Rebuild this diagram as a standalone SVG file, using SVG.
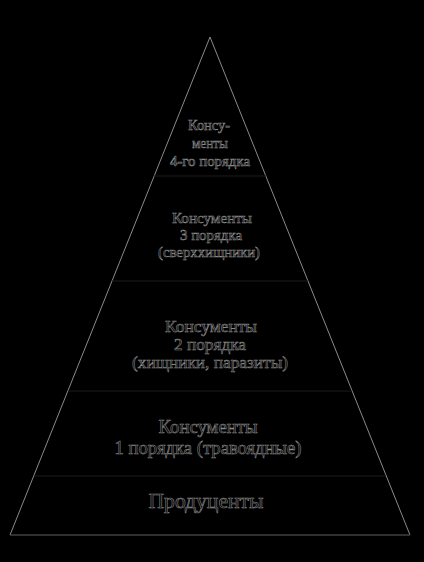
<svg xmlns="http://www.w3.org/2000/svg" width="424" height="562" viewBox="0 0 424 562">
  <style>
    .bg { fill: #000000; }
    .edge { fill: none; stroke: #9a9a9a; stroke-width: 0.9; }
    .div { stroke: #1c1c1c; stroke-width: 1; }
    .t { font-family: "Liberation Serif", "Times New Roman", serif; fill: #000000; stroke: #8a8a8a; stroke-width: 0.55; text-anchor: middle; }
  </style>
  <rect class="bg" x="0" y="0" width="424" height="562"/>
  <g id="pyramid">
    <polygon class="edge" points="210,37 10,535 410,535"/>
    <line class="div" x1="154" y1="176" x2="266" y2="176"/>
    <line class="div" x1="112" y1="281" x2="308" y2="281"/>
    <line class="div" x1="68" y1="391" x2="352" y2="391"/>
    <line class="div" x1="34" y1="476" x2="386" y2="476"/>
    <line class="div" x1="10" y1="535" x2="410" y2="535"/>
  </g>
  <g id="level4">
    <text class="t" x="209" y="130" font-size="14" textLength="42" lengthAdjust="spacingAndGlyphs">Консу-</text>
    <text class="t" x="210" y="148" font-size="14" textLength="36" lengthAdjust="spacingAndGlyphs">менты</text>
    <text class="t" x="210" y="166" font-size="14" textLength="80" lengthAdjust="spacingAndGlyphs">4-го порядка</text>
  </g>
  <g id="level3">
    <text class="t" x="212" y="223" font-size="15" textLength="80" lengthAdjust="spacingAndGlyphs">Консументы</text>
    <text class="t" x="211" y="240" font-size="15" textLength="62" lengthAdjust="spacingAndGlyphs">3 порядка</text>
    <text class="t" x="209" y="257" font-size="15" textLength="102" lengthAdjust="spacingAndGlyphs">(сверххищники)</text>
  </g>
  <g id="level2">
    <text class="t" x="211" y="332" font-size="16.5" textLength="92" lengthAdjust="spacingAndGlyphs">Консументы</text>
    <text class="t" x="210" y="350" font-size="16.5" textLength="72" lengthAdjust="spacingAndGlyphs">2 порядка</text>
    <text class="t" x="210" y="368" font-size="16.5" textLength="156" lengthAdjust="spacingAndGlyphs">(хищники, паразиты)</text>
  </g>
  <g id="level1">
    <text class="t" x="208" y="433" font-size="18" textLength="99" lengthAdjust="spacingAndGlyphs">Консументы</text>
    <text class="t" x="208" y="454" font-size="18" textLength="187" lengthAdjust="spacingAndGlyphs">1 порядка (травоядные)</text>
  </g>
  <g id="producers">
    <text class="t" x="206" y="508" font-size="20" textLength="115" lengthAdjust="spacingAndGlyphs">Продуценты</text>
  </g>
  <g id="connectors"/>
</svg>
